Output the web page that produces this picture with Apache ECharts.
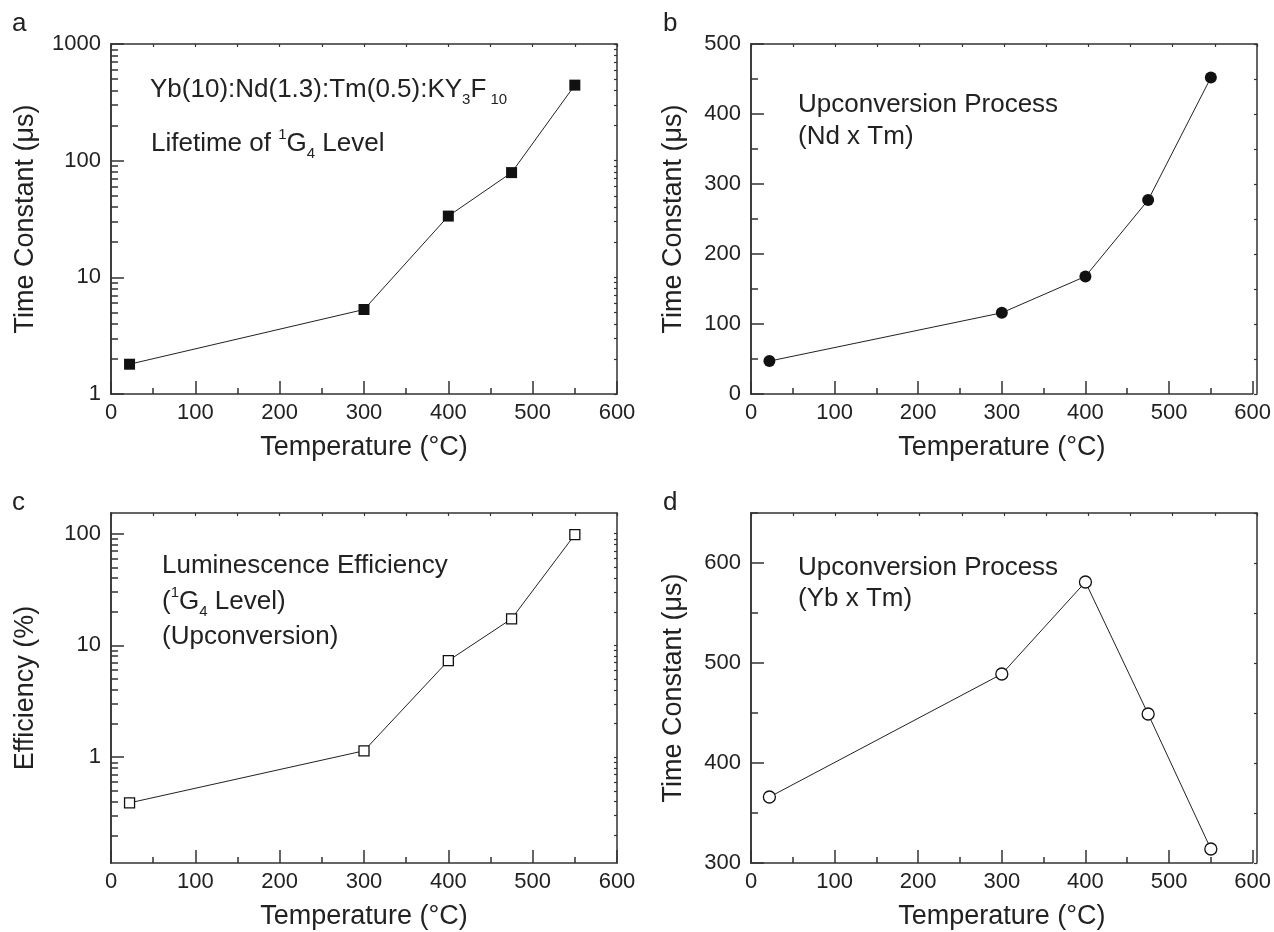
<!DOCTYPE html>
<html>
<head>
<meta charset="utf-8">
<script src="https://cdn.jsdelivr.net/npm/echarts@6/dist/echarts.min.js"></script>
<style>
html, body { margin: 0; padding: 0; background: #fff; }
#chart { width: 1274px; height: 932px; }
</style>
</head>
<body>
<div id="chart"></div>
<script>
// data
var temperature = [22, 300, 400, 475, 550];
var lifetimeG4 = [1.8, 5.3, 33.5, 79, 444];          // a, us (log)
var ndTmConstant = [47, 116, 168, 277, 452];         // b, us
var efficiency = [0.39, 1.14, 7.3, 17.3, 98];        // c, % (log)
var ybTmConstant = [366, 489, 581, 449, 314];        // d, us

// tick positions
var logMinorA = [2, 3, 4, 5, 6, 7, 8, 9, 20, 30, 40, 50, 60, 70, 80, 90, 200, 300, 400, 500, 600, 700, 800, 900];
var logMinorC = [0.2, 0.3, 0.4, 0.5, 0.6, 0.7, 0.8, 0.9, 2, 3, 4, 5, 6, 7, 8, 9, 20, 30, 40, 50, 60, 70, 80, 90];
var majorA = [1, 10, 100, 1000];
var majorC = [1, 10, 100];
var majorB = [0, 100, 200, 300, 400, 500];
var minorB = [50, 150, 250, 350, 450];
var majorD = [300, 400, 500, 600];
var minorD = [350, 450, 550, 650];

var FONT = 'Liberation Sans';
var INK = '#222';
var FRAME = '#333';

var panels = [
	{letter: 'a', left: 111, top: 44, log: true, yMin: 1, yMax: 1000, major: majorA, minor: logMinorA,
		yName: 'Time Constant (\u03bcs)', nameGap: 72, values: lifetimeG4, symbol: 'rect', size: 11, open: false},
	{letter: 'b', left: 751, top: 44, log: false, yMin: 0, yMax: 500, major: majorB, minor: minorB,
		yName: 'Time Constant (\u03bcs)', nameGap: 64, values: ndTmConstant, symbol: 'circle', size: 12, open: false},
	{letter: 'c', left: 111, top: 513, log: true, yMin: 0.113, yMax: 153, major: majorC, minor: logMinorC,
		yName: 'Efficiency (%)', nameGap: 72, values: efficiency, symbol: 'rect', size: 10, open: true},
	{letter: 'd', left: 751, top: 513, log: false, yMin: 300, yMax: 650, major: majorD, minor: minorD,
		yName: 'Time Constant (\u03bcs)', nameGap: 64, values: ybTmConstant, symbol: 'circle', size: 12, open: true}
];

var grids = [], xAxes = [], yAxes = [], series = [];

function toAxisSpace(p, v){
	return p.log ? Math.log10(v) : v;
}

panels.forEach(function(p, i){
	var rect = {left: p.left, top: p.top, width: 506, height: 350, containLabel: false};
	// grid 2i carries the data, grid 2i+1 (same rect) only the extra ticks
	grids.push(rect);
	grids.push(Object.assign({}, rect));

	xAxes.push({
		gridIndex: 2 * i, type: 'value', position: 'bottom', min: 0, max: 600, interval: 100,
		axisLine: {show: true, onZero: false, lineStyle: {color: FRAME, width: 1.5}},
		axisTick: {show: true, inside: true, length: 13, lineStyle: {color: FRAME, width: 1.5}},
		minorTick: {show: true, splitNumber: 2, length: 6, lineStyle: {color: FRAME, width: 1.5}},
		axisLabel: {show: true, margin: 8, fontSize: 22, fontFamily: FONT, color: INK},
		splitLine: {show: false}, minorSplitLine: {show: false},
		name: 'Temperature (\u00b0C)', nameLocation: 'middle', nameGap: 40,
		nameTextStyle: {fontSize: 27, fontFamily: FONT, color: INK}
	});
	xAxes.push({
		gridIndex: 2 * i + 1, type: 'value', position: 'top', min: 0, max: 600, interval: 50,
		axisLine: {show: true, onZero: false, lineStyle: {color: FRAME, width: 1.5}},
		axisTick: {show: true, inside: true, length: 3, lineStyle: {color: FRAME, width: 1.2}},
		axisLabel: {show: false}, splitLine: {show: false}
	});

	var mainY = {
		gridIndex: 2 * i, position: 'left', min: p.yMin, max: p.yMax,
		axisLine: {show: true, onZero: false, lineStyle: {color: FRAME, width: 1.5}},
		axisTick: {show: true, inside: true, length: 13, lineStyle: {color: FRAME, width: 1.5}},
		axisLabel: {show: true, margin: 10, fontSize: 22, fontFamily: FONT, color: INK,
			showMinLabel: p.letter !== 'c', showMaxLabel: p.letter !== 'c' && p.letter !== 'd',
			formatter: function(v){ return String(v); }},
		splitLine: {show: false},
		name: p.yName, nameLocation: 'middle', nameGap: p.nameGap,
		nameTextStyle: {fontSize: 27, fontFamily: FONT, color: INK}
	};
	if(p.log){
		mainY.type = 'log';
		mainY.logBase = 10;
	}else{
		mainY.type = 'value';
		mainY.interval = 100;
	}
	yAxes.push(mainY);

	var lo = toAxisSpace(p, p.yMin), hi = toAxisSpace(p, p.yMax);
	// minor ticks on the left
	yAxes.push({
		gridIndex: 2 * i + 1, type: 'value', position: 'left', min: lo, max: hi,
		axisLine: {show: true, onZero: false, lineStyle: {color: FRAME, width: 1.5}},
		axisTick: {show: true, inside: true, length: 7, lineStyle: {color: FRAME, width: 1.5},
			customValues: p.minor.map(function(v){ return toAxisSpace(p, v); })},
		axisLabel: {show: false}, splitLine: {show: false}
	});
	// right mirror
	yAxes.push({
		gridIndex: 2 * i + 1, type: 'value', position: 'right', min: lo, max: hi,
		axisLine: {show: true, onZero: false, lineStyle: {color: FRAME, width: 1.5}},
		axisTick: {show: true, inside: true, length: 3, lineStyle: {color: FRAME, width: 1.2},
			customValues: p.major.concat(p.minor).map(function(v){ return toAxisSpace(p, v); })},
		axisLabel: {show: false}, splitLine: {show: false}
	});

	series.push({
		type: 'line', xAxisIndex: 2 * i, yAxisIndex: 3 * i,
		data: temperature.map(function(t, k){ return [t, p.values[k]]; }),
		symbol: p.symbol, symbolSize: p.size, showAllSymbol: true,
		itemStyle: {color: p.open ? '#fff' : '#111', borderColor: '#111', borderWidth: p.open ? 1.3 : 0},
		lineStyle: {color: INK, width: 1},
		silent: true
	});
});

var rich = {
	m: {fontSize: 26, fontFamily: FONT, lineHeight: 34, color: INK},
	s: {fontSize: 15, fontFamily: FONT, lineHeight: 15, verticalAlign: 'bottom', color: INK},
	p: {fontSize: 15, fontFamily: FONT, lineHeight: 27, verticalAlign: 'top', color: INK}
};

function note(x, y, text){
	return {type: 'text', left: x, top: y, style: {text: text, rich: rich, fill: INK}};
}
function letter(x, y, text){
	return {type: 'text', left: x, top: y, style: {text: text, fontSize: 26, fontFamily: FONT, fill: INK}};
}

var graphics = [
	letter(12, 11, 'a'), letter(663, 11, 'b'), letter(12, 490, 'c'), letter(663, 490, 'd'),
	note(150, 77, '{m|Yb(10):Nd(1.3):Tm(0.5):KY}{s|3}{m|F}{s| 10}'),
	note(151, 127, '{m|Lifetime of }{p|1}{m|G}{s|4}{m| Level}'),
	note(798, 92, '{m|Upconversion Process}'),
	note(798, 124, '{m|(Nd x Tm)}'),
	note(162, 553, '{m|Luminescence Efficiency}'),
	note(162, 585, '{m|(}{p|1}{m|G}{s|4}{m| Level)}'),
	note(162, 624, '{m|(Upconversion)}'),
	note(798, 555, '{m|Upconversion Process}'),
	note(798, 586, '{m|(Yb x Tm)}')
];

var myChart = echarts.init(document.getElementById('chart'), null, {renderer: 'canvas'});
myChart.setOption({
	animation: false,
	backgroundColor: '#fff',
	grid: grids,
	xAxis: xAxes,
	yAxis: yAxes,
	series: series,
	graphic: graphics
});
</script>
</body>
</html>
